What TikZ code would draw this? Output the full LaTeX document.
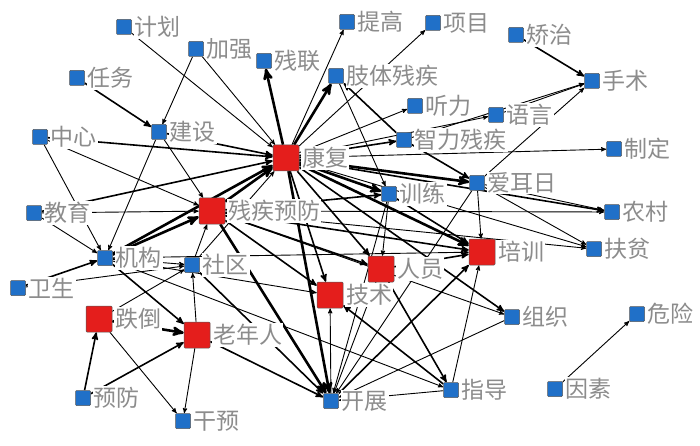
\documentclass[tikz,border=0pt]{standalone}
\usepackage{fontspec}
\newfontfamily\cjk{Noto Sans CJK SC}
\usetikzlibrary{arrows}
\definecolor{nodeblue}{RGB}{32,112,200}
\definecolor{nodered}{RGB}{228,30,28}
\definecolor{labgray}{RGB}{140,140,140}
\pgfdeclarelayer{bg}
\pgfsetlayers{bg,main}

\begin{document}
\begin{tikzpicture}[x=1pt,y=-1pt,>=stealth',
		sq/.style={draw=black!65,line width=0.5pt,rounded corners=1pt,inner sep=0pt},
		bsq/.style={sq,fill=nodeblue,minimum size=15pt},
		rsq/.style={sq,fill=nodered,minimum size=26pt},
		lab/.style={text=labgray,fill=white,inner sep=1pt,font=\cjk\fontsize{23}{23}\selectfont},
		every label/.style={lab},
		label distance=2pt,
		e1/.style={->,line width=0.9pt},
		e2/.style={->,line width=1.6pt},
		e3/.style={->,line width=2.6pt}]
			\useasboundingbox (0,0) rectangle (700,446);
			\node[bsq,label=right:计划] (jihua) at (124,27) {};
			\node[bsq,label=right:加强] (jiaqiang) at (196,49) {};
			\node[bsq,label=right:残联] (canlian) at (264,61) {};
			\node[bsq,label=right:提高] (tigao) at (347,22) {};
			\node[bsq,label=right:项目] (xiangmu) at (433,23) {};
			\node[bsq,label=right:矫治] (jiaozhi) at (516,35) {};
			\node[bsq,label=right:手术] (shoushu) at (592,81) {};
			\node[bsq,label=right:任务] (renwu) at (77,78) {};
			\node[bsq,label=right:肢体残疾] (zhiti) at (336,76) {};
			\node[bsq,label=right:听力] (tingli) at (415,106) {};
			\node[bsq,label=right:语言] (yuyan) at (496,115) {};
			\node[bsq,label=right:中心] (zhongxin) at (40,137) {};
			\node[bsq,label=right:建设] (jianshe) at (159,132) {};
			\node[rsq,label=right:康复] (kangfu) at (286,158) {};
			\node[bsq,label=right:智力残疾] (zhili) at (404,140) {};
			\node[bsq,label=right:制定] (zhiding) at (614,149) {};
			\node[bsq,label=right:爱耳日] (aierri) at (477,183) {};
			\node[bsq,label=right:训练] (xunlian) at (389,194) {};
			\node[bsq,label=right:教育] (jiaoyu) at (34,213) {};
			\node[rsq,label=right:残疾预防] (cjyf) at (212,211) {};
			\node[bsq,label=right:农村] (nongcun) at (612,212) {};
			\node[bsq,label=right:扶贫] (fupin) at (594,249) {};
			\node[rsq,label=right:培训] (peixun) at (482,252) {};
			\node[bsq,label=right:机构] (jigou) at (105,258) {};
			\node[bsq,label=right:社区] (shequ) at (192,265) {};
			\node[rsq,label=right:人员] (renyuan) at (381,269) {};
			\node[bsq,label=right:卫生] (weisheng) at (18,288) {};
			\node[rsq,label=right:技术] (jishu) at (330,295) {};
			\node[rsq,label=right:跌倒] (diedao) at (99,319) {};
			\node[rsq,label=right:老年人] (laonian) at (197,335) {};
			\node[bsq,label=right:组织] (zuzhi) at (512,317) {};
			\node[bsq,label=right:危险] (weixian) at (637,314) {};
			\node[bsq,label=right:预防] (yufang) at (83,398) {};
			\node[bsq,label=right:干预] (ganyu) at (183,421) {};
			\node[bsq,label=right:开展] (kaizhan) at (331,401) {};
			\node[bsq,label=right:指导] (zhidao) at (451,390) {};
			\node[bsq,label=right:因素] (yinsu) at (555,389) {};
			\begin{pgfonlayer}{bg}
			\draw[e1] (jihua) -- (kangfu);
			\draw[e1] (jiaqiang) -- (kangfu);
			\draw[e3] (kangfu) -- (canlian);
			\draw[e1] (kangfu) -- (tigao);
			\draw[e3] (kangfu) -- (zhiti);
			\draw[e1] (kangfu) -- (xiangmu);
			\draw[e2] (jianshe) -- (kangfu);
			\draw[e2] (zhongxin) -- (kangfu);
			\draw[e2] (jiaoyu) -- (kangfu);
			\draw[e1] (kangfu) -- (tingli);
			\draw[e1] (kangfu) -- (yuyan);
			\draw[e2] (kangfu) -- (zhili);
			\draw[e1] (kangfu) -- (zhiding);
			\draw[e3] (kangfu) -- (aierri);
			\draw[e3] (kangfu) -- (xunlian);
			\draw[e2] (kangfu) -- (nongcun);
			\draw[e1] (kangfu) -- (fupin);
			\draw[e3] (kangfu) -- (peixun);
			\draw[e3] (cjyf) -- (kangfu);
			\draw[e2] (kangfu) -- (jishu);
			\draw[e3] (kangfu) -- (kaizhan);
			\draw[e2] (kangfu) -- (renyuan);
			\draw[e3] (jigou) -- (kangfu);
			\draw[e2] (kangfu) -- (zuzhi);
			\draw[e1] (shequ) -- (kangfu);
			\draw[e1] (zhongxin) -- (cjyf);
			\draw[e1] (jianshe) -- (cjyf);
			\draw[e1] (jiaoyu) -- (cjyf);
			\draw[e3] (jigou) -- (cjyf);
			\draw[e2] (cjyf) -- (xunlian);
			\draw[e2] (cjyf) -- (peixun);
			\draw[e1] (cjyf) -- (nongcun);
			\draw[e2] (cjyf) -- (jishu);
			\draw[e3] (cjyf) -- (kaizhan);
			\draw[e2] (cjyf) -- (renyuan);
			\draw[e1] (shequ) -- (cjyf);
			\draw[e1] (cjyf) -- (zuzhi);
			\draw[e1] (cjyf) -- (fupin);
			\draw[e2] (renwu) -- (jianshe);
			\draw[e1] (jiaqiang) -- (jianshe);
			\draw[e1] (jianshe) -- (jigou);
			\draw[e1] (zhongxin) -- (jigou);
			\draw[e1] (jiaoyu) -- (jigou);
			\draw[e2] (weisheng) -- (jigou);
			\draw[e1] (weisheng) -- (shequ);
			\draw[e2] (jigou) -- (laonian);
			\draw[e1] (jigou) -- (zhidao);
			\draw[e1] (jigou) -- (jishu);
			\draw[e1] (jigou) -- (shequ);
			\draw[e1] (jigou) -- (peixun);
			\draw[e1] (laonian) -- (shequ);
			\draw[e2] (shequ) -- (kaizhan);
			\draw[e3] (diedao) -- (laonian);
			\draw[e2] (yufang) -- (diedao);
			\draw[e1] (diedao) -- (ganyu);
			\draw[e1] (diedao) -- (shequ);
			\draw[e1] (laonian) -- (ganyu);
			\draw[e2] (yufang) -- (laonian);
			\draw[e2] (laonian) -- (kaizhan);
			\draw[e1] (kaizhan) -- (jishu);
			\draw[e2] (zhidao) -- (jishu);
			\draw[e2] (renyuan) -- (peixun);
			\draw[e1] (xunlian) -- (renyuan);
			\draw[e1] (renyuan) -- (kaizhan);
			\draw[e2] (renyuan) -- (zhidao);
			\draw[e2] (xunlian) -- (peixun);
			\draw[e1] (xunlian) -- (kaizhan);
			\draw[e1] (aierri) -- (peixun);
			\draw[e1] (aierri) -- (nongcun);
			\draw[e1] (aierri) -- (fupin);
			\draw[e1] (aierri) -- (shoushu);
			\draw[e1] (aierri) -- (kaizhan);
			\draw[e2] (zhili) -- (aierri);
			\draw[e2] (zhili) -- (zhiti);
			\draw[e1] (zhili) -- (shoushu);
			\draw[e1] (zhiti) -- (xunlian);
			\draw[e1] (yuyan) -- (shoushu);
			\draw[e2] (jiaozhi) -- (shoushu);
			\draw[e2] (kaizhan) -- (peixun);
			\draw[e1] (zhidao) -- (peixun);
			\draw[e1] (zhidao) -- (kaizhan);
			\draw[e1] (zuzhi) -- (kaizhan);
			\draw[e1] (yinsu) -- (weixian);
			\end{pgfonlayer}
		\end{tikzpicture}
\end{document}
